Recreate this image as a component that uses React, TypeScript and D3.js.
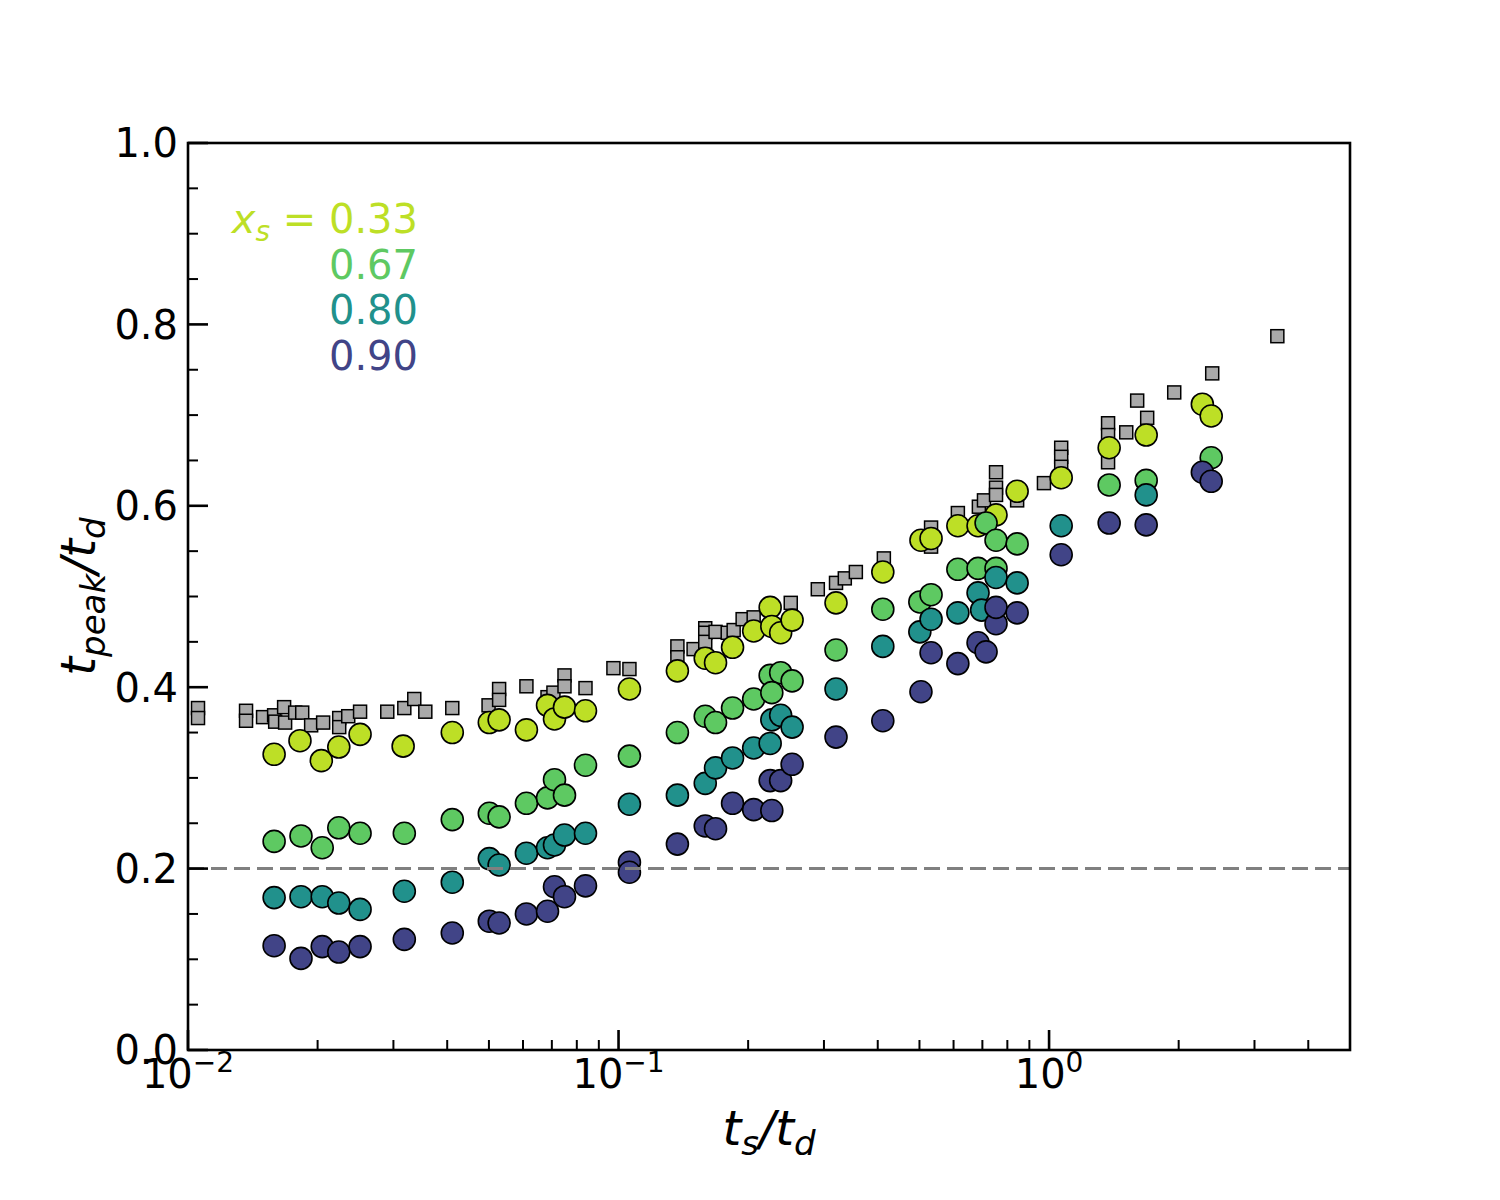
import * as d3 from 'd3'

// t_s/t_d (x) and t_peak/t_d (y) per series
const refX = [0.01055, 0.01055, 0.01364, 0.01364, 0.01494, 0.01585, 0.01594, 0.01672, 0.01681, 0.01774, 0.01842, 0.01932, 0.0206, 0.02245, 0.02245, 0.02356, 0.0251, 0.02903, 0.0318, 0.03354, 0.03558, 0.0411, 0.0499, 0.0528, 0.0528, 0.0611, 0.0684, 0.0706, 0.0749, 0.0749, 0.0838, 0.0973, 0.106, 0.137, 0.137, 0.1494, 0.159, 0.159, 0.159, 0.168, 0.1793, 0.1851, 0.1942, 0.206, 0.2512, 0.2903, 0.32, 0.3354, 0.3558, 0.4133, 0.532, 0.532, 0.614, 0.687, 0.706, 0.753, 0.753, 0.753, 0.843, 0.973, 1.067, 1.067, 1.067, 1.371, 1.371, 1.371, 1.511, 1.602, 1.69, 1.953, 2.393, 3.39]
const refY = [0.377, 0.366, 0.374, 0.363, 0.367, 0.369, 0.362, 0.378, 0.361, 0.372, 0.372, 0.358, 0.361, 0.366, 0.356, 0.368, 0.373, 0.373, 0.377, 0.387, 0.373, 0.377, 0.38, 0.398, 0.386, 0.401, 0.389, 0.394, 0.413, 0.401, 0.399, 0.421, 0.42, 0.445, 0.433, 0.442, 0.465, 0.46, 0.45, 0.461, 0.46, 0.463, 0.475, 0.477, 0.493, 0.508, 0.515, 0.52, 0.527, 0.542, 0.576, 0.555, 0.592, 0.599, 0.606, 0.637, 0.62, 0.612, 0.606, 0.625, 0.664, 0.654, 0.643, 0.691, 0.678, 0.648, 0.681, 0.716, 0.697, 0.725, 0.746, 0.787]

const x33 = [0.01585, 0.0182, 0.0204, 0.0224, 0.0251, 0.0316, 0.0411, 0.0501, 0.0528, 0.0611, 0.0684, 0.071, 0.0749, 0.0838, 0.106, 0.137, 0.159, 0.168, 0.184, 0.206, 0.225, 0.227, 0.238, 0.253, 0.32, 0.411, 0.504, 0.532, 0.614, 0.684, 0.753, 0.843, 1.067, 1.379, 1.681, 2.27, 2.38]
const y33 = [0.326, 0.341, 0.319, 0.334, 0.348, 0.335, 0.35, 0.361, 0.364, 0.353, 0.38, 0.365, 0.378, 0.374, 0.398, 0.418, 0.432, 0.427, 0.444, 0.462, 0.488, 0.467, 0.46, 0.474, 0.493, 0.527, 0.562, 0.564, 0.578, 0.578, 0.59, 0.616, 0.631, 0.664, 0.678, 0.712, 0.699]

const x67 = [0.01585, 0.0183, 0.0205, 0.0224, 0.0251, 0.0318, 0.0411, 0.0501, 0.0528, 0.0611, 0.0684, 0.071, 0.0749, 0.0838, 0.106, 0.137, 0.159, 0.168, 0.184, 0.206, 0.225, 0.238, 0.227, 0.253, 0.32, 0.411, 0.501, 0.532, 0.614, 0.684, 0.753, 0.714, 0.753, 0.843, 1.379, 1.681, 2.38]
const y67 = [0.23, 0.236, 0.223, 0.245, 0.239, 0.239, 0.254, 0.261, 0.257, 0.272, 0.278, 0.298, 0.281, 0.314, 0.324, 0.35, 0.368, 0.361, 0.377, 0.387, 0.413, 0.416, 0.394, 0.407, 0.441, 0.486, 0.494, 0.502, 0.53, 0.531, 0.531, 0.581, 0.562, 0.558, 0.623, 0.628, 0.653]

const x80 = [0.01585, 0.0183, 0.0205, 0.0224, 0.0251, 0.0318, 0.0411, 0.0501, 0.0528, 0.0611, 0.0684, 0.071, 0.0749, 0.0838, 0.106, 0.137, 0.159, 0.168, 0.184, 0.206, 0.225, 0.227, 0.238, 0.253, 0.32, 0.411, 0.501, 0.532, 0.614, 0.684, 0.697, 0.753, 0.843, 1.067, 1.681]
const y80 = [0.168, 0.169, 0.169, 0.162, 0.155, 0.175, 0.185, 0.211, 0.204, 0.217, 0.223, 0.226, 0.237, 0.239, 0.271, 0.281, 0.294, 0.311, 0.322, 0.333, 0.338, 0.364, 0.369, 0.356, 0.398, 0.445, 0.461, 0.475, 0.482, 0.504, 0.485, 0.521, 0.515, 0.578, 0.612]

const x90 = [0.01585, 0.0183, 0.0205, 0.0224, 0.0251, 0.0318, 0.0411, 0.0501, 0.0528, 0.0611, 0.0684, 0.071, 0.0749, 0.0838, 0.106, 0.106, 0.137, 0.159, 0.168, 0.184, 0.206, 0.227, 0.225, 0.238, 0.253, 0.32, 0.411, 0.504, 0.532, 0.614, 0.684, 0.714, 0.753, 0.753, 0.843, 1.067, 1.379, 1.681, 2.27, 2.38]
const y90 = [0.115, 0.101, 0.114, 0.108, 0.114, 0.122, 0.129, 0.142, 0.14, 0.15, 0.153, 0.18, 0.169, 0.181, 0.207, 0.196, 0.227, 0.247, 0.244, 0.272, 0.265, 0.264, 0.297, 0.297, 0.315, 0.345, 0.363, 0.395, 0.438, 0.426, 0.449, 0.439, 0.47, 0.488, 0.482, 0.546, 0.581, 0.579, 0.637, 0.627]

const seriesLabels = ['0.33', '0.67', '0.80', '0.90']
const seriesColors = ['#bddf26', '#5ec962', '#21918c', '#414487']
const seriesXs = [x33, x67, x80, x90]
const seriesYs = [y33, y67, y80, y90]

const yTicks = [0, 0.2, 0.4, 0.6, 0.8, 1.0]
const xDecades = [-2, -1, 0]

const W = 1500
const H = 1200
const margin = { left: 188, right: 150, top: 143, bottom: 150 }
const FONT = 'DejaVu Sans, sans-serif'

export default function App() {
  const x = d3.scaleLog().domain([0.01, 5]).range([margin.left, W - margin.right])
  const y = d3.scaleLinear().domain([0, 1]).range([H - margin.bottom, margin.top])
  const [x0, x1] = x.range()
  const [yb, yt] = y.range()

  const yMinor = d3.range(0, 1.0001, 0.05).filter((v) => Math.abs(v * 5 - Math.round(v * 5)) > 1e-6)
  const xMinor: number[] = []
  xDecades.forEach((e) => {
    for (let k = 2; k <= 9; k++) {
      const v = k * Math.pow(10, e)
      if (v < 5) xMinor.push(v)
    }
  })

  return (
    <svg width={W} height={H} style={{ position: 'absolute', left: 0, top: 0, background: '#fff' }} fontFamily={FONT}>
      {/* gray reference squares */}
      {refX.map((d, i) => (
        <rect key={`r${i}`} x={x(d) - 6.5} y={y(refY[i]) - 6.5} width={13} height={13}
          fill="#a9a9a9" stroke="#000" strokeWidth={1.5} />
      ))}

      {seriesXs.map((xs, s) =>
        xs.map((d, i) => (
          <circle key={`c${s}-${i}`} cx={x(d)} cy={y(seriesYs[s][i])} r={11}
            fill={seriesColors[s]} stroke="#000" strokeWidth={1.6} />
        )),
      )}

      {/* t_peak = 0.2 t_d */}
      <line x1={x0} x2={x1} y1={y(0.2)} y2={y(0.2)} stroke="#808080" strokeWidth={3} strokeDasharray="16,7" />

      {/* frame */}
      <rect x={x0} y={yt} width={x1 - x0} height={yb - yt} fill="none" stroke="#000" strokeWidth={2.6} />

      {/* y ticks */}
      {yTicks.map((t) => (
        <g key={`yt${t}`}>
          <line x1={x0} x2={x0 + 20} y1={y(t)} y2={y(t)} stroke="#000" strokeWidth={2.6} />
          <text x={x0 - 10} y={y(t)} dy="0.36em" textAnchor="end" fontSize={40}>{t.toFixed(1)}</text>
        </g>
      ))}
      {yMinor.map((t) => (
        <line key={`ym${t}`} x1={x0} x2={x0 + 10} y1={y(t)} y2={y(t)} stroke="#000" strokeWidth={2} />
      ))}

      {/* x ticks */}
      {xDecades.map((e) => {
        const v = Math.pow(10, e)
        return (
          <g key={`xt${e}`}>
            <line x1={x(v)} x2={x(v)} y1={yb} y2={yb - 20} stroke="#000" strokeWidth={2.6} />
            <text x={x(v)} y={yb + 38} textAnchor="middle" fontSize={40}>
              10<tspan fontSize={28} dy={-16}>{e === 0 ? '0' : `\u2212${-e}`}</tspan>
            </text>
          </g>
        )
      })}
      {xMinor.map((v) => (
        <line key={`xm${v}`} x1={x(v)} x2={x(v)} y1={yb} y2={yb - 10} stroke="#000" strokeWidth={2} />
      ))}

      {/* axis labels */}
      <text x={(x0 + x1) / 2} y={1145} textAnchor="middle" fontSize={48} fontStyle="italic">
        t<tspan fontSize={34} dy={10}>s</tspan><tspan dy={-10}>/t</tspan><tspan fontSize={34} dy={10}>d</tspan>
      </text>
      <text transform={`translate(95,${(yt + yb) / 2}) rotate(-90)`} textAnchor="middle" fontSize={48} fontStyle="italic">
        t<tspan fontSize={34} dy={10}>peak</tspan><tspan dy={-10}>/t</tspan><tspan fontSize={34} dy={10}>d</tspan>
      </text>

      {/* legend text */}
      {seriesLabels.map((lab, i) => (
        <text key={lab} x={418} y={233 + i * 45.5} textAnchor="end" fontSize={40} fill={seriesColors[i]}>
          {i === 0 ? (
            <>
              <tspan fontStyle="italic">x</tspan>
              <tspan fontStyle="italic" fontSize={28} dy={8}>s</tspan>
              <tspan dy={-8}>{' = '}</tspan>
              {lab}
            </>
          ) : lab}
        </text>
      ))}
    </svg>
  )
}
